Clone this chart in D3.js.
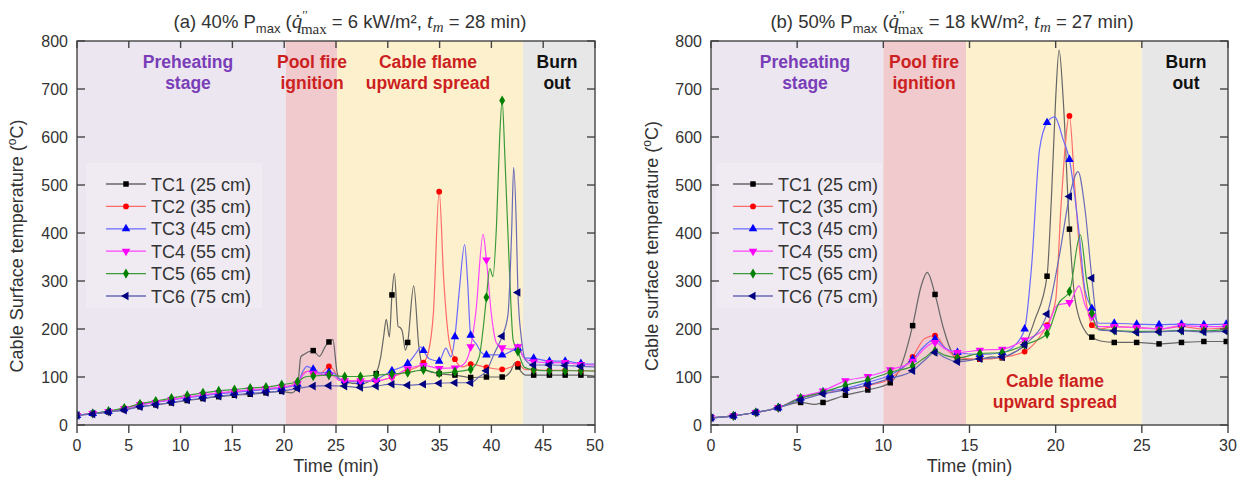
<!DOCTYPE html>
<html><head><meta charset="utf-8">
<script src="https://cdn.jsdelivr.net/npm/d3@7"></script>
<style>body{margin:0;background:#fff;} svg{display:block;font-family:Arial,"Liberation Sans",sans-serif;}</style>
</head><body><svg id="c" width="1242" height="478"></svg>
<script>
// ---------------- DATA ----------------
const seriesNames = ["TC1 (25 cm)","TC2 (35 cm)","TC3 (45 cm)","TC4 (55 cm)","TC5 (65 cm)","TC6 (75 cm)"];
const stageNames = ["Preheating stage","Pool fire ignition","Cable flame upward spread","Burn out"];
const yTicks = [0,100,200,300,400,500,600,700,800];
const xTicksA = [0,5,10,15,20,25,30,35,40,45,50];
const xTicksB = [0,5,10,15,20,25,30];
const stageBoundsA = [0,20.15,25.1,43.05,50];
const stageBoundsB = [0,10.0,14.8,25.0,30];
const markerTimesA = [0,1.52,3.04,4.56,6.08,7.6,9.12,10.64,12.16,13.68,15.2,16.72,18.24,19.76,21.28,22.8,24.32,25.84,27.36,28.88,30.4,31.92,33.44,34.96,36.48,38.0,39.52,41.04,42.56,44.08,45.6,47.12,48.64];
const markerTimesB = [0,1.3,2.6,3.9,5.2,6.5,7.8,9.1,10.4,11.7,13.0,14.3,15.6,16.9,18.2,19.5,20.8,22.1,23.4,24.7,26.0,27.3,28.6,29.9];

// (a) 40% Pmax
const tc1A = [[0,20],[1.52,24],[3.04,27],[4.56,32],[6.08,38],[7.6,42],[9.12,46],[10.64,51],[12.16,55],[13.68,59],[15.2,62],[16.72,64],[18.24,67],[19.76,70],[20.7,67],[21.28,78],[21.6,142],[22.0,148],[22.3,152],[22.8,155],[23.4,143],[24.0,165],[24.32,173],[24.7,178],[25.1,110],[25.4,94],[25.84,90],[27.36,86],[28.5,95],[28.88,107],[29.3,140],[29.6,184],[29.85,220],[30.15,183],[30.4,271],[30.63,316],[31.0,205],[31.2,203],[31.4,195],[31.7,156],[31.92,172],[32.5,290],[33.0,163],[33.44,118],[33.8,113],[34.96,107],[36.48,104],[38.0,99],[39.52,100],[41.04,100],[41.8,110],[42.3,130],[42.56,121],[43.0,108],[43.3,104],[44.08,104],[45.6,104],[47.12,104],[48.64,104],[50,102]];
const tc2A = [[0,20],[1.52,24],[3.04,28],[4.56,35],[6.08,44],[7.6,48],[9.12,53],[10.64,58],[12.16,62],[13.68,66],[15.2,69],[16.72,72],[18.24,75],[19.76,78],[21.28,88],[21.8,108],[22.3,112],[22.8,108],[23.5,108],[24.32,122],[24.8,114],[25.3,96],[25.84,93],[27.36,92],[28.88,92],[30.4,100],[31.92,113],[33.44,130],[33.9,150],[34.4,233],[34.96,486],[35.4,302],[35.9,177],[36.48,137],[37.2,121],[38.0,127],[39.52,120],[41.04,116],[42.0,122],[42.56,128],[43.2,116],[44.08,115],[45.6,114],[47.12,114],[48.64,113],[50,113]];
const tc3A = [[0,20],[1.52,24],[3.04,28],[4.56,34],[6.08,42],[7.6,47],[9.12,52],[10.64,57],[12.16,61],[13.68,65],[15.2,68],[16.72,71],[18.24,74],[19.76,77],[21.28,85],[21.8,112],[22.2,122],[22.8,116],[23.5,108],[24.32,110],[24.8,108],[25.3,96],[25.84,92],[27.36,90],[28.88,95],[30.4,113],[31.92,128],[32.8,152],[33.2,163],[33.44,155],[34.0,138],[34.96,133],[35.6,160],[36.1,142],[36.48,184],[36.9,280],[37.42,376],[37.7,300],[38.0,187],[38.6,167],[39.0,152],[39.52,146],[41.04,146],[42.0,155],[42.56,160],[43.2,140],[44.08,139],[45.6,133],[47.12,133],[48.64,128],[50,127]];
const tc4A = [[0,20],[1.52,24],[3.04,28],[4.56,34],[6.08,42],[7.6,47],[9.12,53],[10.64,58],[12.16,63],[13.68,67],[15.2,70],[16.72,73],[18.24,76],[19.76,79],[21.28,86],[21.8,104],[22.3,112],[22.8,108],[24.32,104],[24.8,102],[25.3,93],[25.84,92],[27.36,92],[28.88,92],[30.4,100],[31.92,117],[33.44,124],[34.96,118],[36.48,119],[37.3,126],[38.0,163],[38.5,235],[39.2,397],[39.52,344],[40.0,230],[40.5,170],[41.04,161],[42.0,158],[42.56,163],[43.2,138],[44.08,132],[45.6,130],[47.12,130],[48.64,126],[50,125]];
const tc5A = [[0,20],[1.52,24],[3.04,29],[4.56,35],[6.08,44],[7.6,50],[9.12,56],[10.64,62],[12.16,67],[13.68,71],[15.2,74],[16.72,77],[18.24,79],[19.76,84],[21.28,90],[22.0,100],[22.8,102],[24.32,104],[25.84,101],[27.36,101],[28.88,104],[30.4,106],[31.92,109],[33.44,115],[34.96,108],[36.48,111],[38.0,116],[38.8,140],[39.2,200],[39.52,266],[39.85,326],[40.15,309],[40.5,420],[40.8,600],[41.04,676],[41.3,560],[41.7,344],[42.1,177],[42.56,153],[43.2,120],[44.08,115],[45.6,113],[47.12,113],[48.64,113],[50,112]];
const tc6A = [[0,20],[1.52,23],[3.04,27],[4.56,31],[6.08,38],[7.6,42],[9.12,47],[10.64,52],[12.16,56],[13.68,60],[15.2,63],[16.72,66],[18.24,68],[19.76,71],[21.28,76],[22.8,81],[24.32,82],[25.84,81],[27.36,78],[28.88,81],[30.4,85],[31.92,83],[33.44,85],[34.96,87],[36.48,88],[38.0,88],[38.8,100],[39.52,113],[40.3,150],[41.04,185],[41.6,230],[41.95,400],[42.15,537],[42.4,420],[42.56,276],[42.9,180],[43.3,135],[44.08,125],[45.6,125],[47.12,124],[48.64,122],[50,121]];

// (b) 50% Pmax
const tc1B = [[0,15],[1.3,19],[2.6,26],[3.9,36],[5.2,47],[6.0,43],[6.5,47],[7.8,62],[9.1,73],[10.4,88],[11.1,130],[11.7,207],[12.2,290],[12.55,318],[13.0,272],[13.5,200],[14.06,145],[14.3,135],[15.0,137],[15.6,137],[16.3,142],[16.9,140],[17.5,150],[18.2,167],[18.8,220],[19.5,310],[19.75,470],[20.0,680],[20.2,781],[20.44,677],[20.8,408],[21.13,260],[21.8,191],[22.1,183],[22.6,175],[23.4,172],[24.7,172],[26.0,169],[27.3,172],[28.6,174],[29.9,174],[30,174]];
const tc2B = [[0,15],[1.3,19],[2.6,26],[3.9,36],[5.2,56],[6.5,66],[7.8,74],[9.1,82],[10.4,97],[11.7,142],[12.4,180],[13.0,186],[13.6,160],[14.3,141],[15.6,137],[16.9,141],[18.2,153],[19.0,180],[19.5,208],[20.0,260],[20.3,450],[20.8,644],[21.1,500],[21.4,360],[21.8,250],[22.1,208],[22.5,200],[23.4,205],[24.7,203],[26.0,200],[27.3,205],[28.6,200],[29.9,202],[30,202]];
const tc3B = [[0,15],[1.3,19],[2.6,26],[3.9,36],[5.2,56],[6.5,69],[7.8,76],[9.1,89],[10.4,104],[11.7,137],[12.4,165],[13.0,179],[13.6,160],[14.3,151],[15.6,147],[16.9,151],[17.6,165],[18.2,200],[18.6,330],[19.06,573],[19.5,630],[19.94,642],[20.44,594],[20.8,553],[21.36,400],[21.7,281],[22.1,243],[22.5,212],[23.4,212],[24.7,210],[26.0,209],[27.3,210],[28.6,209],[29.9,210],[30,210]];
const tc4B = [[0,15],[1.3,19],[2.6,26],[3.9,36],[5.2,58],[6.5,71],[7.8,92],[9.1,101],[10.4,115],[11.7,133],[12.4,160],[13.0,172],[13.6,158],[14.3,151],[15.6,156],[16.9,158],[18.2,177],[19.5,205],[20.1,250],[20.8,255],[21.36,290],[21.7,250],[22.1,226],[22.5,205],[23.4,205],[24.7,203],[26.0,200],[27.3,207],[28.6,205],[29.9,205],[30,205]];
const tc5B = [[0,15],[1.3,19],[2.6,26],[3.9,36],[5.2,56],[6.5,68],[7.8,83],[9.1,94],[10.4,110],[11.7,123],[12.4,140],[13.0,154],[13.6,145],[14.3,140],[15.6,149],[16.9,151],[18.2,167],[19.5,190],[20.2,255],[20.8,278],[21.43,396],[21.8,300],[22.1,233],[22.5,200],[23.4,197],[24.7,195],[26.0,195],[27.3,197],[28.6,196],[29.9,198],[30,198]];
const tc6B = [[0,15],[1.3,19],[2.6,26],[3.9,36],[5.2,52],[6.5,65],[7.8,73],[9.1,83],[10.4,97],[11.7,113],[12.4,135],[13.0,151],[13.6,140],[14.3,132],[15.6,138],[16.9,142],[18.2,167],[19.5,231],[20.2,350],[20.8,476],[21.3,528],[21.7,450],[22.1,306],[22.5,198],[23.4,196],[24.7,193],[26.0,194],[27.3,196],[28.6,194],[29.9,195],[30,195]];

// ---------------- STYLE ----------------
const lineColors = ["#666666","#ff6a6a","#6a6aff","#ff44ff","#3a9a3a","#6a6ab8"];
const markColors = ["#000000","#ff0000","#0000ff","#ff00ff","#008000","#000080"];
const symbols = [d3.symbolSquare,d3.symbolCircle,d3.symbolTriangle,d3.symbolTriangle,d3.symbolDiamond,d3.symbolTriangle];
const symRot = [0,0,0,180,0,-90];
const symSize = [30,26,32,32,30,32];
const stageFills = ["#ece6f0","#f0cacc","#fdf1cd","#e7e7e7"];

const svg = d3.select("#c");

function drawPanel(cfg){
  const x = d3.scaleLinear().domain([0,cfg.xMax]).range([cfg.x0,cfg.x1]);
  const y = d3.scaleLinear().domain([0,800]).range([cfg.y1,cfg.y0]);
  const g = svg.append("g");
  const clipId = "clip"+cfg.id;
  svg.append("clipPath").attr("id",clipId).append("rect")
    .attr("x",cfg.x0).attr("y",cfg.y0).attr("width",cfg.x1-cfg.x0).attr("height",cfg.y1-cfg.y0);

  for(let i=0;i<4;i++){
    g.append("rect").attr("x",x(cfg.bounds[i])).attr("y",cfg.y0)
      .attr("width",x(cfg.bounds[i+1])-x(cfg.bounds[i])).attr("height",cfg.y1-cfg.y0)
      .attr("fill",stageFills[i]);
  }
  g.append("rect").attr("x",cfg.legBg[0]).attr("y",cfg.legBg[1]).attr("width",cfg.legBg[2]).attr("height",cfg.legBg[3])
    .attr("fill","#ffffff").attr("opacity",0.22);

  const stageColors = ["#7a3db8","#cc1f1f","#cc1f1f","#111111"];
  const lines = [["Preheating","stage"],["Pool fire","ignition"],["Cable flame","upward spread"],["Burn","out"]];
  cfg.labelPos.forEach((p,i)=>{
    const t = g.append("text").attr("text-anchor","middle").attr("font-weight","bold")
      .attr("font-size","17.5px").attr("fill",stageColors[i]);
    t.append("tspan").attr("x",p[0]).attr("y",p[1]).text(lines[i][0]);
    t.append("tspan").attr("x",p[0]).attr("y",p[1]+21).text(lines[i][1]);
  });

  const line = d3.line().x(d=>x(d[0])).y(d=>y(d[1])).curve(d3.curveMonotoneX);
  const pg = g.append("g").attr("clip-path","url(#"+clipId+")");
  cfg.series.forEach((s,i)=>{
    pg.append("path").attr("d",line(s)).attr("fill","none").attr("stroke",lineColors[i]).attr("stroke-width",1.2);
  });
  cfg.series.forEach((s,i)=>{
    const pts = s.filter(d=>cfg.marks.some(m=>Math.abs(m-d[0])<0.005));
    pg.selectAll(null).data(pts).enter().append("path")
      .attr("d",d3.symbol().type(symbols[i]).size(symSize[i]))
      .attr("transform",d=>`translate(${x(d[0])},${y(d[1])}) rotate(${symRot[i]})`)
      .attr("fill",markColors[i]);
  });

  const ax = "#444";
  g.append("rect").attr("x",cfg.x0).attr("y",cfg.y0).attr("width",cfg.x1-cfg.x0).attr("height",cfg.y1-cfg.y0)
    .attr("fill","none").attr("stroke",ax).attr("stroke-width",1.4);
  cfg.xTicks.forEach(v=>{
    g.append("line").attr("x1",x(v)).attr("x2",x(v)).attr("y1",cfg.y1).attr("y2",cfg.y1+8).attr("stroke",ax).attr("stroke-width",1.4);
    g.append("line").attr("x1",x(v)).attr("x2",x(v)).attr("y1",cfg.y0).attr("y2",cfg.y0+7).attr("stroke",ax).attr("stroke-width",1.4);
    g.append("text").attr("x",x(v)).attr("y",cfg.y1+26).attr("text-anchor","middle").attr("font-size","16px").attr("fill","#333").text(v);
  });
  yTicks.forEach(v=>{
    g.append("line").attr("x1",cfg.x0).attr("x2",cfg.x0+8).attr("y1",y(v)).attr("y2",y(v)).attr("stroke",ax).attr("stroke-width",1.4);
    g.append("line").attr("x1",cfg.x1).attr("x2",cfg.x1-8).attr("y1",y(v)).attr("y2",y(v)).attr("stroke",ax).attr("stroke-width",1.4);
    g.append("text").attr("x",cfg.x0-9).attr("y",y(v)+6).attr("text-anchor","end").attr("font-size","16px").attr("fill","#333").text(v);
  });

  g.append("text").attr("x",(cfg.x0+cfg.x1)/2).attr("y",472).attr("text-anchor","middle").attr("font-size","18px").attr("fill","#333").text("Time (min)");
  const yl = g.append("text").attr("transform",`translate(${cfg.yLabX},246) rotate(-90)`).attr("text-anchor","middle")
    .attr("font-size","18px").attr("fill","#333");
  yl.append("tspan").text(cfg.yLabel+" (");
  yl.append("tspan").attr("font-size","12px").attr("dy",-7).text("o");
  yl.append("tspan").attr("dy",7).text("C)");

  seriesNames.forEach((n,i)=>{
    const ly = 184 + i*22.4;
    g.append("line").attr("x1",cfg.leg[0]).attr("x2",cfg.leg[0]+40).attr("y1",ly).attr("y2",ly).attr("stroke",lineColors[i]).attr("stroke-width",1.3);
    g.append("path").attr("d",d3.symbol().type(symbols[i]).size(symSize[i]))
      .attr("transform",`translate(${cfg.leg[0]+20},${ly}) rotate(${symRot[i]})`).attr("fill",markColors[i]);
    g.append("text").attr("x",cfg.leg[0]+45).attr("y",ly+6.5).attr("font-size","18px").attr("fill","#333").text(n);
  });

  const tt = g.append("text").attr("x",cfg.titleX).attr("y",28).attr("text-anchor","middle").attr("font-size","18.5px").attr("fill","#333");
  tt.append("tspan").text(cfg.tLead+" P");
  tt.append("tspan").attr("font-size","13px").attr("dy",5).text("max");
  tt.append("tspan").attr("dy",-5).text(" (");
  tt.append("tspan").attr("font-family","'Liberation Serif','DejaVu Serif',serif").attr("font-style","italic").attr("font-size","21px").text("q\u0307");
  tt.append("tspan").attr("font-family","'Liberation Serif',serif").attr("font-size","13px").attr("dy",-9).text("\u2032\u2032");
  tt.append("tspan").attr("font-family","'Liberation Serif',serif").attr("font-size","15px").attr("dx",-7).attr("dy",15).text("max");
  tt.append("tspan").attr("dy",-6).text(" = "+cfg.tq+" kW/m\u00b2, ");
  tt.append("tspan").attr("font-family","'Liberation Serif',serif").attr("font-style","italic").attr("font-size","21px").text("t");
  tt.append("tspan").attr("font-family","'Liberation Serif',serif").attr("font-style","italic").attr("font-size","15px").attr("dy",4).text("m");
  tt.append("tspan").attr("dy",-4).text(" = "+cfg.tm+" min)");
}

drawPanel({id:"a",x0:77,x1:595,y0:41,y1:425,xMax:50,bounds:stageBoundsA,xTicks:xTicksA,marks:markerTimesA,
  series:[tc1A,tc2A,tc3A,tc4A,tc5A,tc6A],
  labelPos:[[188,68],[312,68],[428,68],[557,68]],
  legBg:[86,163,176,145],leg:[106,0],yLabX:23,yLabel:"Cable Surface temperature",
  titleX:350,tLead:"(a) 40%",tq:"6",tm:"28"});
drawPanel({id:"b",x0:711,x1:1228,y0:41,y1:425,xMax:30,bounds:stageBoundsB,xTicks:xTicksB,marks:markerTimesB,
  series:[tc1B,tc2B,tc3B,tc4B,tc5B,tc6B],
  labelPos:[[805,68],[924,68],[1055,387],[1186,68]],
  legBg:[716,163,166,145],leg:[733,0],yLabX:658,yLabel:"Cable surface temperature",
  titleX:952,tLead:"(b) 50%",tq:"18",tm:"27"});
</script></body></html>
